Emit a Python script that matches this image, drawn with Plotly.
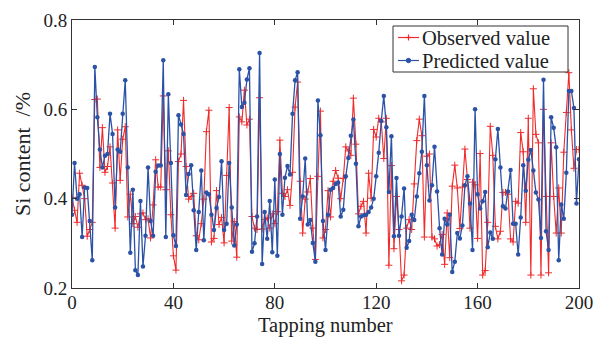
import plotly.graph_objects as go

tapping = list(range(0, 201))

predicted = [
    0.364, 0.48, 0.40, 0.41, 0.314, 0.425, 0.424, 0.35, 0.262, 0.695,
    0.582, 0.51, 0.47, 0.496, 0.50, 0.59, 0.545, 0.38, 0.51, 0.505,
    0.59, 0.665, 0.47, 0.279, 0.42, 0.24, 0.229, 0.395, 0.248, 0.317,
    0.47, 0.35, 0.317, 0.46, 0.474, 0.474, 0.71, 0.314, 0.634, 0.48,
    0.318, 0.294, 0.587, 0.566, 0.545, 0.408, 0.455, 0.475, 0.374, 0.285,
    0.37, 0.463, 0.307, 0.414, 0.41, 0.364, 0.33, 0.379, 0.404, 0.484,
    0.33, 0.344, 0.48, 0.38, 0.295, 0.342, 0.69, 0.605, 0.615, 0.667,
    0.692, 0.281, 0.30, 0.36, 0.726, 0.254, 0.37, 0.31, 0.395, 0.28,
    0.443, 0.272, 0.50, 0.364, 0.447, 0.473, 0.454, 0.59, 0.665, 0.683,
    0.355, 0.405, 0.49, 0.342, 0.352, 0.301, 0.259, 0.62, 0.542, 0.35,
    0.285, 0.364, 0.42, 0.424, 0.433, 0.436, 0.36, 0.375, 0.45, 0.491,
    0.541, 0.577, 0.478, 0.338, 0.36, 0.363, 0.364, 0.37, 0.38, 0.40,
    0.45, 0.503, 0.574, 0.63, 0.56, 0.415, 0.54, 0.316, 0.446, 0.317,
    0.36, 0.423, 0.29, 0.305, 0.364, 0.352, 0.405, 0.457, 0.505, 0.63,
    0.475, 0.396, 0.43, 0.516, 0.416, 0.334, 0.275, 0.355, 0.342, 0.364,
    0.236, 0.259, 0.323, 0.311, 0.34, 0.43, 0.45, 0.389, 0.285, 0.60,
    0.41, 0.378, 0.394, 0.415, 0.291, 0.324, 0.31, 0.488, 0.556, 0.47,
    0.383, 0.378, 0.416, 0.464, 0.344, 0.344, 0.275, 0.358, 0.475, 0.418,
    0.487, 0.509, 0.463, 0.414, 0.398, 0.312, 0.666, 0.327, 0.285, 0.582,
    0.559, 0.515, 0.262, 0.387, 0.355, 0.458, 0.641, 0.641, 0.603, 0.389,
    0.488,
]

observed = [
    0.403, 0.374, 0.347, 0.457, 0.43, 0.40, 0.316, 0.331, 0.347, 0.622,
    0.623, 0.47, 0.559, 0.459, 0.472, 0.516, 0.435, 0.334, 0.554, 0.441,
    0.533, 0.561, 0.359, 0.41, 0.344, 0.36, 0.336, 0.366, 0.368, 0.353,
    0.355, 0.312, 0.386, 0.487, 0.426, 0.426, 0.63, 0.42, 0.507, 0.364,
    0.272, 0.24, 0.483, 0.50, 0.62, 0.472, 0.399, 0.405, 0.412, 0.317,
    0.308, 0.344, 0.399, 0.55, 0.598, 0.303, 0.311, 0.418, 0.342, 0.358,
    0.301, 0.452, 0.604, 0.305, 0.349, 0.269, 0.583, 0.572, 0.643, 0.565,
    0.578, 0.36, 0.334, 0.331, 0.626, 0.332, 0.353, 0.357, 0.334, 0.366,
    0.344, 0.371, 0.531, 0.412, 0.405, 0.42, 0.385, 0.459, 0.605, 0.661,
    0.439, 0.323, 0.399, 0.415, 0.445, 0.334, 0.264, 0.45, 0.596, 0.312,
    0.331, 0.418, 0.359, 0.439, 0.463, 0.446, 0.40, 0.445, 0.516, 0.507,
    0.497, 0.625, 0.522, 0.366, 0.383, 0.394, 0.323, 0.457, 0.401, 0.555,
    0.538, 0.58, 0.572, 0.49, 0.58, 0.251, 0.474, 0.288, 0.405, 0.331,
    0.216, 0.229, 0.334, 0.353, 0.331, 0.433, 0.53, 0.578, 0.541, 0.314,
    0.495, 0.50, 0.314, 0.31, 0.294, 0.297, 0.32, 0.253, 0.368, 0.268,
    0.428, 0.475, 0.424, 0.333, 0.426, 0.511, 0.443, 0.334, 0.437, 0.431,
    0.311, 0.501, 0.229, 0.239, 0.347, 0.562, 0.497, 0.338, 0.31, 0.327,
    0.414, 0.414, 0.41, 0.31, 0.303, 0.394, 0.39, 0.548, 0.505, 0.347,
    0.58, 0.229, 0.646, 0.544, 0.525, 0.229, 0.6, 0.405, 0.234, 0.525,
    0.405, 0.323, 0.424, 0.323, 0.504, 0.593, 0.682, 0.554, 0.468, 0.51,
    0.51,
]

series_names = ["Observed value", "Predicted value"]
x_title = "Tapping number"
y_title = "Si content  /%"
x_ticks = [0, 40, 80, 120, 160, 200]
y_ticks = [0.2, 0.4, 0.6, 0.8]

RED = "#ef2b2b"
BLUE = "#2b52a6"
FONT = "Liberation Serif"
TXT = "#222222"

fig = go.Figure()
fig.add_trace(go.Scatter(
    x=tapping, y=observed, mode="lines+markers", name=series_names[0],
    line=dict(color=RED, width=1.1),
    marker=dict(symbol="cross-thin", size=5, line=dict(color=RED, width=1), color=RED),
    showlegend=False,
))
fig.add_trace(go.Scatter(
    x=tapping, y=predicted, mode="lines+markers", name=series_names[1],
    line=dict(color=BLUE, width=1.3),
    marker=dict(symbol="circle", size=4.5, color=BLUE),
    showlegend=False,
))

axis_common = dict(
    showline=True, linecolor="#333333", linewidth=1, mirror="ticks",
    ticks="inside", ticklen=5, tickcolor="#333333", showgrid=False, zeroline=False,
    tickfont=dict(family=FONT, size=19, color=TXT), automargin=False,
)

fig.update_xaxes(range=[0, 200], tickvals=x_ticks, ticktext=[str(v) for v in x_ticks],
                 ticklabelstandoff=-3, **axis_common)
fig.update_yaxes(range=[0.2, 0.8], tickvals=y_ticks, ticktext=[f"{v:.1f}" for v in y_ticks],
                 title=dict(text=y_title, font=dict(family=FONT, size=22, color=TXT), standoff=6),
                 **axis_common)

# ---- plot-area pixel helpers ----
PL, PR, PT, PB = 72, 579, 20, 288  # plot area in pixels
def px_x(p):
    return (p - PL) / (PR - PL)
def px_y(p):
    return (PB - p) / (PB - PT)

annotations = [
    # x-axis title, sitting at the very bottom like the reference
    dict(xref="paper", yref="paper", x=0.5, y=px_y(338), text=x_title, showarrow=False,
         xanchor="center", yanchor="bottom", borderpad=0,
         font=dict(family=FONT, size=20.5, color=TXT)),
]

# ---- legend box (compact MATLAB-like legend) ----
LEG_TOP, LEG_BOT = 26, 72
shapes = [
    dict(type="rect", xref="paper", yref="paper",
         x0=px_x(393), x1=px_x(568), y0=px_y(LEG_BOT), y1=px_y(LEG_TOP),
         line=dict(color="#333333", width=1), fillcolor="white", layer="above"),
]
ROW1, ROW2 = 37.5, 60.5
rows = [(ROW1, RED, series_names[0]), (ROW2, BLUE, series_names[1])]
for ry, col, name in rows:
    shapes.append(dict(type="line", xref="paper", yref="paper",
                       x0=px_x(398), x1=px_x(419), y0=px_y(ry), y1=px_y(ry),
                       line=dict(color=col, width=1.2), layer="above"))
    annotations.append(dict(xref="paper", yref="paper", x=px_x(420), y=px_y(ry),
                            text=name, showarrow=False, xanchor="left", yanchor="middle",
                            font=dict(family=FONT, size=20.5, color=TXT)))
# red cross marker
shapes.append(dict(type="line", xref="paper", yref="paper",
                   x0=px_x(405.5), x1=px_x(411.5), y0=px_y(ROW1), y1=px_y(ROW1),
                   line=dict(color=RED, width=1.2), layer="above"))
shapes.append(dict(type="line", xref="paper", yref="paper",
                   x0=px_x(408.5), x1=px_x(408.5), y0=px_y(ROW1 - 3), y1=px_y(ROW1 + 3),
                   line=dict(color=RED, width=1.2), layer="above"))
# blue dot marker
shapes.append(dict(type="circle", xref="paper", yref="paper",
                   x0=px_x(406.3), x1=px_x(410.7), y0=px_y(ROW2 + 2.2), y1=px_y(ROW2 - 2.2),
                   line=dict(color=BLUE, width=1), fillcolor=BLUE, layer="above"))

fig.update_layout(
    width=594, height=338,
    margin=dict(l=PL, r=594 - PR, t=PT, b=338 - PB),
    plot_bgcolor="white", paper_bgcolor="white",
    font=dict(family=FONT, size=20, color=TXT),
    shapes=shapes, annotations=annotations,
    showlegend=False,
)

fig.write_html("out.html")
